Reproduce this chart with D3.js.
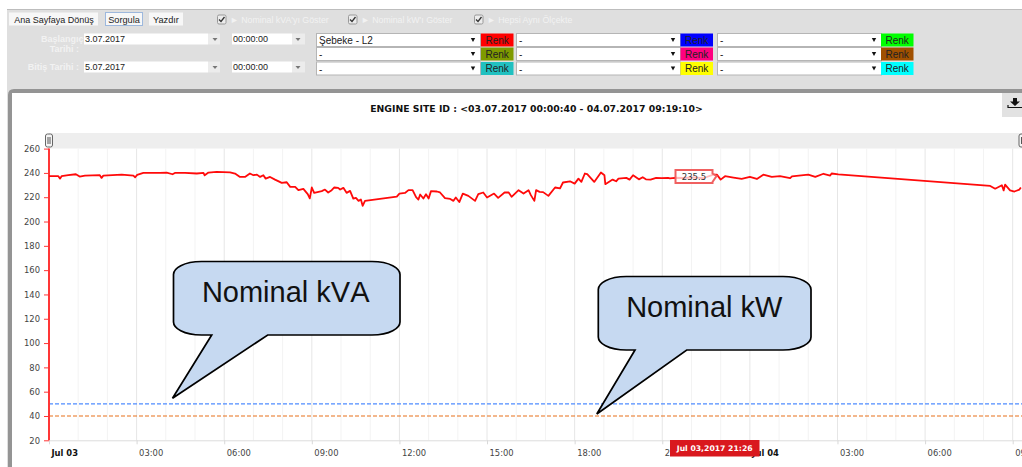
<!DOCTYPE html>
<html><head><meta charset="utf-8">
<script src="https://cdn.jsdelivr.net/npm/d3@7"></script>
<style>
html,body{margin:0;padding:0;background:#fff;overflow:hidden}
svg{display:block}
text{font-family:"Liberation Sans",Arial,sans-serif}
.chart text{font-family:"DejaVu Sans",Verdana,sans-serif}
</style></head><body>
<svg id="c" width="1022" height="467"></svg>
<script>
// ---- chart data (hours since Jul 03 00:00, voltage) ----
const hoursA=[0,0.32,0.38,0.43,0.66,0.92,1.05,1.23,1.74,1.8,1.86,2.49,2.89,2.95,3.02,3.23,3.46,3.8,4.03,4.23,4.31,4.66,5.06,5.29,5.33,5.46,5.74,6.2,6.37,6.54,6.71,6.88,7.0,7.12,7.23,7.34,7.42,7.57,7.74,7.97,8.14,8.26,8.43,8.54,8.71,8.86,8.93,9.0,9.08,9.34,9.45,9.56,9.68,9.77,9.9];
const voltsA=[237.3,237.3,235.3,237.3,238.1,238.9,237,237.8,238.1,235.9,237.8,238.6,237.8,236.4,238.4,240,240,240,240.3,238.9,240,240,239.5,240,238,240.3,240.8,240.5,239.5,236.7,236.7,239.5,238.1,238.6,236.7,238.1,235.3,236.7,234.5,231.8,232.3,228.5,228.5,225.8,226.9,222.5,219,228,223.6,225,226.3,223.9,225.8,228,227.7];
const hoursB=[9.97,10.08,10.19,10.31,10.42,10.51,10.6,10.68,10.74,10.82,11.91,12.0,12.19,12.31,12.45,12.57,12.65,12.71,12.82,12.91,13.0,13.08,13.28,13.39,13.56,13.74,13.85,13.93,14.05,14.17,14.36,14.59,14.7,14.87,15.0,15.24,15.38,15.6,15.74,15.84,16.08,16.25,16.42,16.5,16.62,16.68,16.8,16.92,17.1,17.33,17.5,17.6,17.84,18.0,18.13,18.23,18.35,18.43,18.67,18.9,19.02,19.05,19.3,19.42,19.5,19.77,19.88,20.0,20.2,20.33,20.44,20.6,20.79,20.98,21.2,21.26,21.43];
const voltsB=[226.3,227.7,223.6,225.2,218.9,219.5,217,218.1,212.9,217,220.5,223,223.5,225.8,225.8,220,218.1,222.2,218.9,222.5,218.9,225,224.7,223.9,219.2,218.6,217,219.8,216,223,221.1,217,222.5,223.9,219.8,223,219.5,223.9,223.9,220.3,225.8,223,225.8,221.7,217,225.8,224.4,224.2,221.1,228,227.2,232.1,233.1,231.2,235.3,232.6,239.5,239,232.6,240.3,238.1,230.7,234.5,233.1,235.3,235.9,234.5,238.1,234.7,236.4,234.7,234.4,235.9,235.7,235.9,235.5,236];
const hoursC=[21.7,22.1,22.4,22.75,22.87,23.0,23.15,23.44,23.72,24.0,24.24,24.46,24.75,25.03,25.38,25.44,26.0,26.24,26.52,26.75,26.8,27.03,32.23,32.4,32.63,32.69,32.74,32.91,33.06,33.23,33.28];
const voltsC=[235.8,236.4,235.6,238.6,238.6,234.5,237.3,236.2,235.1,236.7,235,238.5,236.7,237.3,235.7,237.1,238.6,236.7,239.3,237.8,239.5,238.8,229.3,227,229.8,225.6,230.3,225.6,224.7,226.3,228];
const yTicks=[20,40,60,80,100,120,140,160,180,200,220,240,260];
const majorHours=[0,3,6,9,12,15,18,21,24,27,30,33];
const minorHours=[1,2,4,5,7,8,10,11,13,14,16,17,19,20,22,23,25,26,28,29,31,32];
const xTickLabels=["Jul 03","03:00","06:00","09:00","12:00","15:00","18:00","21:00","Jul 04","03:00","06:00","09:00"];
const nominalKVA=50, nominalKW=40;
const chartTitle="ENGINE SITE ID : <03.07.2017 00:00:40 - 04.07.2017 09:19:10>";
const tooltipValue="235.5", axisTag="Jul 03,2017 21:26";
const renkColors=[["#ff0000","#0000ff","#00ff00"],["#7f9a00","#ff0080","#a05000"],["#20c0c0","#ffff00","#00ffff"]];

const allVolts=[...voltsA,...voltsB,...voltsC];
const series=[...hoursA,...hoursB,...hoursC].map((h,i)=>({h,v:allVolts[i]}));
const svg=d3.select("#c");
const W=1022,H=467;
const R=(s,x,y,w,h,f,st,r)=>s.append("rect").attr("x",x).attr("y",y).attr("width",w).attr("height",h).attr("fill",f).attr("stroke",st||"none").attr("rx",r||0);
const T=(s,x,y,t,size,fill,anchor,weight)=>s.append("text").attr("x",x).attr("y",y).text(t).attr("font-size",size).attr("fill",fill).attr("text-anchor",anchor||"start").attr("font-weight",weight||"normal");
const tri=(s,cx,cy,hw,h,fill)=>s.append("path").attr("d",`M${cx-hw},${cy}h${2*hw}l${-hw},${h}z`).attr("fill",fill);

// ---- toolbar panel ----
const ui=svg.append("g");
R(ui,7,9,W-7,H-9,"#dfdfdf");
ui.append("line").attr("x1",7).attr("x2",W).attr("y1",9.5).attr("y2",9.5).attr("stroke","#bdbdbd");
R(ui,9,12.5,89,13,"#f7f7f7");T(ui,54,23,"Ana Sayfaya Dönüş",9,"#222","middle");
R(ui,105.5,12.5,37,13,"#f7f7f7","#9db8dd");T(ui,124,23,"Sorgula",9.2,"#222","middle");
R(ui,149,12.5,34,13,"#f7f7f7");T(ui,166,23,"Yazdır",9.2,"#222","middle");
[[217,"► Nominal kVA'yı Göster"],[348,"► Nominal kW'ı Göster"],[474,"► Hepsi Aynı Ölçekte"]].forEach(([x,t])=>{
  R(ui,x+.5,15,8.5,9,"#ececec","#999",1.5);
  ui.append("path").attr("d",`M${x+2},19.5l2,2l3.5,-4.5`).attr("fill","none").attr("stroke","#333").attr("stroke-width",1.3);
  T(ui,x+13,23,t,8.8,"#f2f2f2");
});
T(ui,83.5,42,"Başlangıç",9,"#f2f2f2","end","bold");
T(ui,79,52,"Tarihi  :",9,"#f2f2f2","end","bold");
T(ui,79,70,"Bitiş Tarihi  :",9,"#f2f2f2","end","bold");
[[33.5,"3.07.2017"],[61.5,"5.07.2017"]].forEach(([y,t])=>{
  R(ui,84,y,124,11,"#fff");R(ui,208,y,12,11,"#ececec");
  T(ui,85,y+8.5,t,9,"#222");tri(ui,215,y+4.5,2.5,3,"#777");
  R(ui,232,y,60,11,"#fff");R(ui,292,y,13,11,"#ececec");
  T(ui,233,y+8.5,"00:00:00",9,"#222");tri(ui,298,y+4.5,2.5,3,"#777");
});
const colX=[316,516,717],renkX=[481,680.5,881],rowY=[33.5,47.5,62];
rowY.forEach((y,r)=>colX.forEach((x,c)=>{
  R(ui,x+.5,y,164,13,"#fff","#b5b5b5");
  T(ui,x+3,y+10.5,(r===0&&c===0)?"Şebeke - L2":"-",10,"#222");
  tri(ui,x+157,y+4.5,2.2,4,"#111");
  R(ui,renkX[c],y,32.5,13,renkColors[r][c]);
  T(ui,renkX[c]+16.2,y+10,"Renk",10,"#222","middle");
}));

// ---- chart panel ----
ui.append("path").attr("d",`M10,${H}V95Q10,91 14,91H${W}`).attr("fill","#fff").attr("stroke","#949494").attr("stroke-width",4);
R(ui,12,93,W-12,H-93,"#fff");
R(ui,1002,93,20,24,"#e2e2e2");
ui.append("path").attr("d","M1013,98h4v3.5h3l-5,4.5l-5,-4.5h3z").attr("fill","#111");
ui.append("path").attr("d","M1008,105v2.5h14").attr("fill","none").attr("stroke","#111").attr("stroke-width",1.2);

const chart=svg.append("g").attr("class","chart");
T(chart,536.5,112,chartTitle,9.3,"#111","middle","bold");
R(chart,49,133,W-49,15.5,"#eeeeee");

const t0=new Date(2017,6,3,0,0,0);
const toDate=h=>new Date(+t0+h*3600e3);
const x=d3.scaleTime().domain([toDate(0),toDate(33)]).range([49,1012.7]);
const y=d3.scaleLinear().domain([20,260]).range([440.3,148.6]);

// grid
chart.append("g").selectAll("line").data(minorHours).join("line")
 .attr("x1",d=>x(toDate(d))).attr("x2",d=>x(toDate(d))).attr("y1",y(260)).attr("y2",y(20)).attr("stroke","#f3f3f3");
chart.append("g").selectAll("line").data(majorHours.slice(1)).join("line")
 .attr("x1",d=>x(toDate(d))).attr("x2",d=>x(toDate(d))).attr("y1",y(260)).attr("y2",y(20)).attr("stroke","#e6e6e6");

// x axis
const xAxis=d3.axisBottom(x).tickValues(majorHours.map(toDate)).tickSize(4).tickFormat((d,i)=>xTickLabels[i]);
const gx=chart.append("g").attr("transform",`translate(0,${y(20)})`).call(xAxis);
gx.select(".domain").attr("stroke","#dcdcdc").attr("d",`M49,0.5H${W}`);
gx.selectAll("line").attr("stroke","#d8d8d8");
gx.selectAll("text").attr("text-anchor","start").attr("dx",2).attr("y",10).attr("font-size",8.4).attr("font-family","DejaVu Sans")
  .attr("font-weight",(d,i)=>xTickLabels[i].startsWith("Jul")?"bold":"normal").attr("fill",(d,i)=>xTickLabels[i].startsWith("Jul")?"#111":"#444");

// nominal lines
[[nominalKVA,"#4f8cff"],[nominalKW,"#e8701a"]].forEach(([v,c])=>{
  chart.append("line").attr("x1",49).attr("x2",W).attr("y1",y(v)).attr("y2",y(v)).attr("stroke",c).attr("stroke-width",1.1).attr("stroke-dasharray","4 2");
});

// y axis
const yAxis=d3.axisLeft(y).tickValues(yTicks).tickSize(5);
const gy=chart.append("g").attr("transform","translate(49,0)").call(yAxis);
gy.select(".domain").attr("stroke","#ff3636").attr("stroke-width",2).attr("d",`M0,${y(260)}V${y(20)}`);
gy.selectAll("line").attr("stroke","#ff3636");
gy.selectAll("text").attr("font-size",8.4).attr("fill","#444").attr("font-family","DejaVu Sans").attr("x",-9);

// series
const line=d3.line().x(d=>x(toDate(d.h))).y(d=>y(d.v));
chart.append("path").datum(series).attr("d",line).attr("fill","none").attr("stroke","#ff0a0a").attr("stroke-width",1.8).attr("stroke-linejoin","round");

// navigator handles
[45.5,1019].forEach(hx=>{
  R(chart,hx,134,7,13,"#f4f4f4","#666",2);
  chart.append("path").attr("d",`M${hx+2.5},137v7M${hx+4.5},137v7`).attr("stroke","#555").attr("fill","none");
});

// tooltip flag
chart.append("path").attr("d","M675.5,170H712.5V173.5L716.5,176L712.5,182V183H675.5Z")
  .attr("fill","rgba(255,255,255,.72)").attr("stroke","#f06060").attr("stroke-width",2);
T(chart,694,180,tooltipValue,8.6,"#333","middle");

// axis tag
R(chart,670,440,89.5,16.5,"#d9181e");
T(chart,714.7,451,axisTag,7.7,"#fff","middle","bold");

// callouts
const bubble=(l,t,r,b,t1,tip,t2)=>`M${l+28},${t}H${r-28}C${r-10},${t} ${r},${t+7} ${r},${t+13}V${b-13}C${r},${b-7} ${r-10},${b} ${r-28},${b}H${t2}L${tip[0]},${tip[1]}L${t1},${b}H${l+28}C${l+10},${b} ${l},${b-7} ${l},${b-13}V${t+13}C${l},${t+7} ${l+10},${t} ${l+28},${t}Z`;
const note=svg.append("g");
[[173.5,261.5,400,335,211.7,[172.5,398.3],267.7,285.7,302,"Nominal kVA"],
 [598.3,276.5,811,350,635,[596.8,414],686.7,704.3,316.5,"Nominal kW"]].forEach(a=>{
  note.append("path").attr("d",bubble(a[0],a[1],a[2],a[3],a[4],a[5],a[6])).attr("fill","#c6d9f1").attr("stroke","#000").attr("stroke-width",1.7);
  T(note,a[7],a[8],a[9],29,"#111","middle").style("font-kerning","none");
});
</script></body></html>
